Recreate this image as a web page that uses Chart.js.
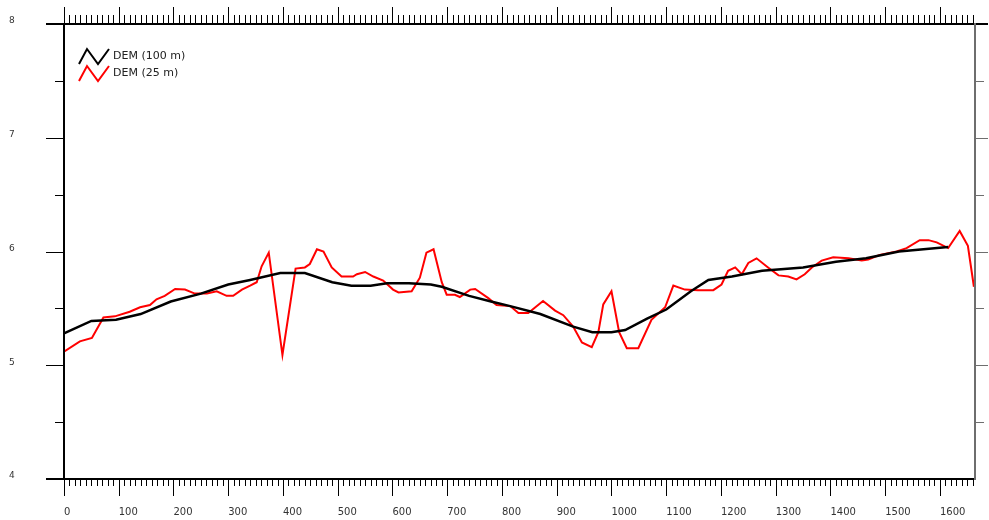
<!DOCTYPE html>
<html>
<head>
<meta charset="utf-8">
<script src="https://cdn.jsdelivr.net/npm/chart.js@4.4.1/dist/chart.umd.min.js"></script>
<style>
html, body { margin: 0; padding: 0; background: #fff; }
#wrap { width: 989px; height: 520px; position: relative; }
</style>
</head>
<body>
<div id="wrap"><canvas id="profile"></canvas></div>
<script>
// Elevation profile: DEM 100 m vs DEM 25 m
const X_MIN = 0;
const X_MAX = 1664;
const Y_MIN = 4;
const Y_MAX = 8;
const X_LABELS = [0, 100, 200, 300, 400, 500, 600, 700, 800, 900, 1000, 1100, 1200, 1300, 1400, 1500, 1600];
const Y_LABELS = [4, 5, 6, 7, 8];

const DEM100_X = [0, 50, 95, 140, 195, 250, 300, 340, 395, 440, 490, 525, 560, 590, 630, 670, 690, 740, 780, 815,
    870, 930, 965, 1000, 1025, 1065, 1100, 1145, 1177, 1220, 1275, 1350, 1410, 1465, 1525, 1615];
const DEM100_Y = [5.28, 5.39, 5.40, 5.45, 5.56, 5.63, 5.71, 5.75, 5.81, 5.81, 5.73, 5.70, 5.70, 5.72, 5.72, 5.71, 5.69,
    5.61, 5.56, 5.52, 5.45, 5.34, 5.29, 5.29, 5.31, 5.41, 5.49, 5.65, 5.75, 5.78, 5.83, 5.86, 5.91, 5.94, 6.00, 6.04];

const DEM25_X = [0, 29, 51, 72, 93, 120, 139, 157, 169, 184, 203, 221, 239, 261, 279, 297, 309, 325, 340, 352,
    361, 374, 399, 423, 440, 449, 462, 474, 489, 507, 528, 535, 550, 565, 583, 601, 611, 635, 650, 662,
    675, 690, 699, 714, 723, 742, 751, 775, 790, 815, 830, 848, 875, 897, 912, 930, 946, 964, 976, 985,
    1000, 1014, 1028, 1049, 1073, 1098, 1113, 1134, 1158, 1186, 1201, 1213, 1226, 1238, 1250, 1265, 1286,
    1305, 1323, 1338, 1353, 1366, 1384, 1405, 1433, 1457, 1469, 1490, 1521, 1539, 1563, 1579, 1594, 1615,
    1636, 1651, 1662];
const DEM25_Y = [5.12, 5.21, 5.24, 5.42, 5.43, 5.47, 5.51, 5.53, 5.58, 5.61, 5.67, 5.665, 5.63, 5.63, 5.65, 5.61,
    5.61, 5.665, 5.70, 5.73, 5.87, 5.99, 5.09, 5.85, 5.86, 5.89, 6.02, 6.00, 5.86, 5.78, 5.78, 5.80, 5.82,
    5.78, 5.745, 5.665, 5.64, 5.65, 5.77, 5.99, 6.02, 5.73, 5.62, 5.62, 5.60, 5.665, 5.67, 5.59, 5.53, 5.52,
    5.46, 5.46, 5.565, 5.48, 5.44, 5.34, 5.20, 5.16, 5.29, 5.535, 5.65, 5.29, 5.15, 5.15, 5.40, 5.51, 5.70,
    5.665, 5.66, 5.66, 5.71, 5.83, 5.86, 5.80, 5.90, 5.94, 5.86, 5.79, 5.78, 5.755, 5.80, 5.86, 5.92, 5.95,
    5.94, 5.92, 5.93, 5.97, 6.00, 6.03, 6.10, 6.10, 6.08, 6.03, 6.18, 6.05, 5.69];

function toPoints(xs, ys) {
    return xs.map((v, i) => ({ x: v, y: ys[i] }));
}

function seg(ctx, x1, y1, x2, y2) {
    ctx.beginPath();
    ctx.moveTo(x1, y1);
    ctx.lineTo(x2, y2);
    ctx.stroke();
}

// draws the boxed axes with inner minor/major ticks, labels and the zigzag legend
const axesFrame = {
    id: "axesFrame",
    afterDraw(chart) {
        const { ctx, chartArea: a, scales: { x, y } } = chart;
        ctx.save();

        // x ticks, every 10 m, major every 100 m
        ctx.lineWidth = 1;
        ctx.strokeStyle = "#000";
        for (let v = X_MIN; v <= X_MAX; v += 10) {
            const px = Math.round(x.getPixelForValue(v)) + 0.5;
            const major = v % 100 === 0;
            seg(ctx, px, a.bottom, px, a.bottom + (major ? 17 : 7));
            seg(ctx, px, a.top, px, a.top - (major ? 17 : 9));
        }

        // y ticks every 0.5
        for (let v = Y_MIN; v <= Y_MAX; v += 0.5) {
            const py = Math.round(y.getPixelForValue(v)) + 0.5;
            const major = Number.isInteger(v);
            ctx.strokeStyle = "#000";
            seg(ctx, a.left - (major ? 18 : 9), py, a.left, py);
            if (v > Y_MIN) {
                ctx.strokeStyle = "#6e6e6e";
                seg(ctx, a.right, py, a.right + (major ? 13 : 9), py);
            }
        }

        // frame lines
        ctx.lineWidth = 2;
        ctx.strokeStyle = "#000";
        seg(ctx, a.left - 18, a.top, a.right + 13, a.top);
        seg(ctx, a.left - 18, a.bottom, a.right, a.bottom);
        seg(ctx, a.left, a.top, a.left, a.bottom);
        ctx.strokeStyle = "#6e6e6e";
        seg(ctx, a.right, a.top - 1, a.right, a.bottom + 1);

        // labels
        ctx.fillStyle = "#333";
        ctx.textAlign = "left";
        ctx.textBaseline = "middle";
        ctx.font = "10px 'DejaVu Sans'";
        X_LABELS.forEach((v) => {
            ctx.fillText(String(v), x.getPixelForValue(v), a.bottom + 33);
        });
        ctx.font = "9px 'DejaVu Sans'";
        Y_LABELS.forEach((v) => {
            ctx.fillText(String(v), 9, y.getPixelForValue(v) - 3);
        });

        // legend
        ctx.lineWidth = 2;
        ctx.lineJoin = "miter";
        ctx.font = "11px 'DejaVu Sans'";
        ctx.fillStyle = "#222";
        chart.data.datasets.forEach((ds, i) => {
            const top = a.top + 25 + i * 17;
            ctx.strokeStyle = ds.borderColor;
            ctx.beginPath();
            ctx.moveTo(a.left + 15, top + 15);
            ctx.lineTo(a.left + 23, top);
            ctx.lineTo(a.left + 34, top + 15);
            ctx.lineTo(a.left + 45, top);
            ctx.stroke();
            ctx.fillText(ds.label, a.left + 49, top + 7);
        });

        ctx.restore();
    },
};

new Chart(document.getElementById("profile"), {
    type: "line",
    data: {
        datasets: [
            {
                label: "DEM (100 m)",
                data: toPoints(DEM100_X, DEM100_Y),
                borderColor: "#000000",
                borderWidth: 2.5,
                pointRadius: 0,
                tension: 0,
                fill: false,
            },
            {
                label: "DEM (25 m)",
                data: toPoints(DEM25_X, DEM25_Y),
                borderColor: "#ff0000",
                borderWidth: 2,
                pointRadius: 0,
                tension: 0,
                fill: false,
            },
        ],
    },
    options: {
        responsive: true,
        maintainAspectRatio: false,
        animation: false,
        layout: { padding: { left: 64, top: 24, right: 14, bottom: 41 } },
        plugins: { legend: { display: false }, tooltip: { enabled: false } },
        scales: {
            x: { type: "linear", min: X_MIN, max: X_MAX, display: false },
            y: { type: "linear", min: Y_MIN, max: Y_MAX, display: false },
        },
    },
    plugins: [axesFrame],
});
</script>
</body>
</html>
